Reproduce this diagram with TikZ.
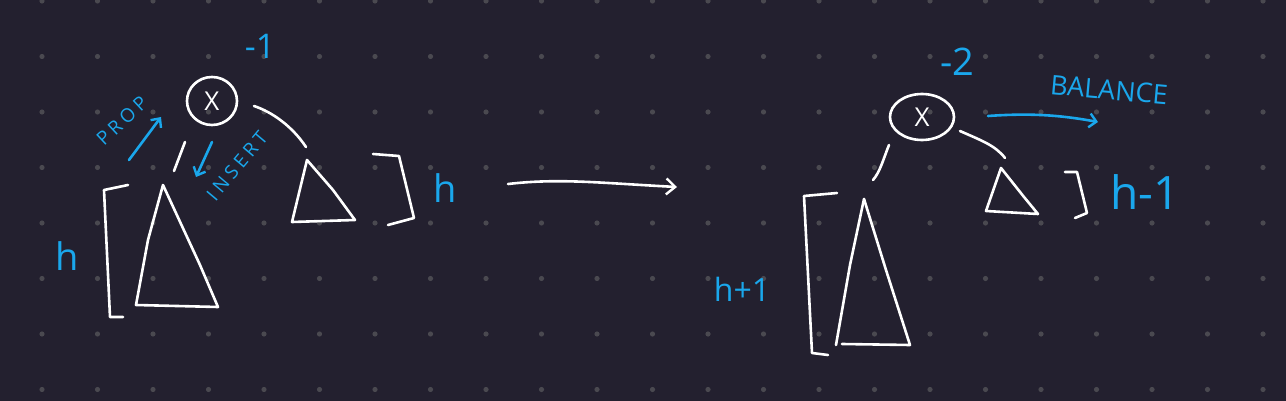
\documentclass[tikz,border=0pt]{standalone}
\usepackage{fontspec}
\setmainfont{Open Sans}
\usetikzlibrary{arrows.meta,shapes.geometric}
\definecolor{bgc}{HTML}{23202F}
\definecolor{dotc}{HTML}{4A4950}
\definecolor{inkblue}{HTML}{1AA7EC}
\tikzset{
  chalk/.style={draw=white,line width=2.6pt,line cap=round,line join=round},
  bluepen/.style={draw=inkblue,line width=2.6pt,line cap=round,line join=round},
  bluelabel/.style={text=inkblue,inner sep=0pt,font=#1},
  keynode/.style={draw=white,line width=2.6pt,ellipse,inner sep=0pt,text=white,font=\fontsize{26}{26}\selectfont},
  tip/.style={-{Straight Barb[length=9pt,width=16pt,line width=2.4pt]}}
}
\begin{document}
\begin{tikzpicture}[x=1pt,y=-1pt]
\fill[bgc] (0,0) rectangle (1286,401);
\useasboundingbox (0,0) rectangle (1286,401);
\foreach \i in {0,...,22}{
  \foreach \j in {0,...,7}{
    \fill[dotc] ({42+55.5*\i},{1+55.5*\j}) circle (2.6);
  }
}
% ---------- left tree ----------
\node[keynode,minimum width=50pt,minimum height=48pt] (xa) at (212,101) {X};
\coordinate (la1) at (185,142);
\coordinate (la2) at (174,171);
\coordinate (ra1) at (254,106);
\coordinate (ra2) at (306,147);
\draw[chalk] (la1) -- (la2);
\draw[chalk] (ra1) .. controls (272,112) and (292,126) .. (ra2);
% left big subtree
\coordinate (ta) at (163,185);
\coordinate (tb) at (136,305);
\coordinate (tc) at (218,307);
\draw[chalk] (ta) -- (148,240) -- (tb) -- (tc) -- (200,265) -- cycle;
\draw[chalk] (128,185) -- (104,190) -- (110,317) -- (123,317);
\node[bluelabel={\fontsize{38}{38}\selectfont}] (hl) at (67,256) {h};
% right subtree
\coordinate (ua) at (307,160);
\coordinate (ub) at (292,222);
\coordinate (uc) at (355,220);
\draw[chalk] (ua) -- (ub) -- (uc) -- (333,190) -- cycle;
\draw[chalk] (373,154) -- (399,156) -- (414,218) -- (388,225);
\node[bluelabel={\fontsize{38}{38}\selectfont}] (hr) at (445,188) {h};
% labels
\node[bluelabel={\fontsize{34}{34}\selectfont}] (bfa) at (260,46) {-1};
\node[bluelabel={\fontsize{19}{19}\selectfont},rotate=43] (prop) at (122,121) {P\kern4pt R\kern4pt O\kern4pt P};
\coordinate (pa1) at (129,160);
\coordinate (pa2) at (161,117);
\draw[bluepen,-{Straight Barb[length=7pt,width=13pt,line width=2.4pt]}] (pa1) -- (pa2);
\node[bluelabel={\fontsize{19}{19}\selectfont},rotate=50] (ins) at (237,166) {I\kern4pt N\kern4pt S\kern4pt E\kern4pt R\kern4pt T};
\coordinate (ia1) at (212,142);
\coordinate (ia2) at (196,177);
\draw[bluepen,-{Straight Barb[length=7pt,width=13pt,line width=2.4pt]}] (ia1) -- (ia2);
% ---------- transition arrow ----------
\coordinate (m1) at (508,184);
\coordinate (m2) at (677,187);
\draw[chalk,tip] (m1) .. controls (560,178) and (600,183) .. (m2);
% ---------- right tree ----------
\node[keynode,minimum width=64pt,minimum height=46pt] (xb) at (922,117) {X};
\coordinate (lb1) at (889,145);
\coordinate (lb2) at (873,180);
\draw[chalk] (lb1) .. controls (883,160) and (880,172) .. (lb2);
\coordinate (rb1) at (960,131);
\coordinate (rb2) at (1005,158);
\draw[chalk] (rb1) .. controls (980,140) and (995,145) .. (rb2);
% big subtree
\coordinate (va) at (864,199);
\coordinate (vb) at (836,345);
\coordinate (vc) at (910,345);
\draw[chalk] (va) -- (850,265) -- (vb);
\draw[chalk] (842,344) -- (vc) -- (886,270) -- (va);
\draw[chalk] (837,193) -- (804,196) -- (812,353) -- (828,355);
\node[bluelabel={\fontsize{32}{32}\selectfont}] (hp) at (742,289) {h+1};
% small subtree
\coordinate (wa) at (1001,168);
\coordinate (wb) at (986,211);
\coordinate (wc) at (1038,214);
\draw[chalk] (wa) -- (wb) -- (wc) -- (1024,197) -- cycle;
\draw[chalk] (1065,172) -- (1077,172) -- (1087,213) -- (1075,218);
\node[bluelabel={\fontsize{46}{46}\selectfont}] (hm) at (1145,192) {h-1};
% labels
\node[bluelabel={\fontsize{38}{38}\selectfont}] (bfb) at (957,62) {-2};
\node[bluelabel={\fontsize{27}{27}\selectfont},rotate=-5] (bal) at (1109,90) {BALANCE};
\coordinate (ba1) at (988,116);
\coordinate (ba2) at (1098,122);
\draw[bluepen,-{Straight Barb[length=7pt,width=14pt,line width=2.4pt]}] (ba1) .. controls (1030,113) and (1060,115) .. (ba2);
\end{tikzpicture}
\end{document}
